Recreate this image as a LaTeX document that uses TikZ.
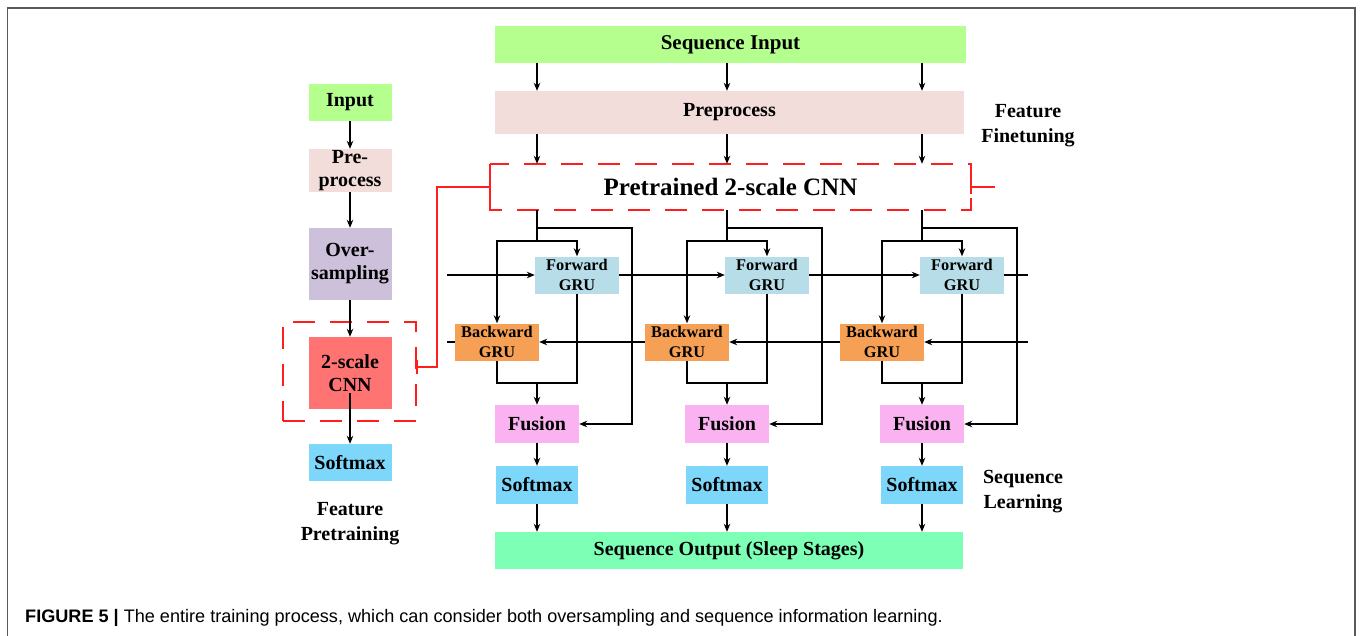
\documentclass[tikz,border=0pt]{standalone}
\usepackage{fontspec}
\setmainfont{Liberation Serif}
\setsansfont{Liberation Sans}
\usetikzlibrary{arrows.meta,calc}

\definecolor{cinput}{RGB}{180,255,142}
\definecolor{cpre}{RGB}{242,221,219}
\definecolor{cover}{RGB}{204,192,218}
\definecolor{ccnn}{RGB}{255,115,115}
\definecolor{csoft}{RGB}{125,215,250}
\definecolor{cfwd}{RGB}{183,222,232}
\definecolor{cbwd}{RGB}{245,160,85}
\definecolor{cfus}{RGB}{250,178,240}
\definecolor{cout}{RGB}{125,255,182}
\definecolor{cred}{RGB}{255,30,30}
\definecolor{cframe}{RGB}{90,90,90}

\begin{document}
\begin{tikzpicture}[x=1pt,y=-1pt,
  box/.style={draw=none, inner sep=0pt, align=center,
    font=\bfseries\fontsize{20}{23}\selectfont},
  gru/.style={box, minimum width=84pt, minimum height=37pt,
    font=\bfseries\fontsize{16.3}{19.5}\selectfont},
  lbl/.style={inner sep=0pt, align=center, font=\bfseries\fontsize{20}{25}\selectfont},
  arr/.style={-{Stealth[length=8pt,width=6.5pt]}, line width=1.6pt},
  ln/.style={line width=1.6pt},
  redln/.style={draw=cred, line width=1.8pt},
  reddash/.style={draw=cred, line width=1.8pt, dash pattern=on 22pt off 15pt}
]
\useasboundingbox (0,0) rectangle (1360,635);

% outer frame
\draw[cframe, line width=1.5pt] (7.5,640) -- (7.5,8) -- (1355,8) -- (1355,640);

% ---------- left column ----------
\node[box, fill=cinput, minimum width=83pt, minimum height=37pt] (inp) at (350,102.5) {Input};
\node[box, fill=cpre, minimum width=83pt, minimum height=43pt] (pre) at (350,170.5) {Pre-\\process};
\node[box, fill=cover, minimum width=83pt, minimum height=72pt] (over) at (350,264) {Over-\\sampling};
\node[box, fill=ccnn, minimum width=83pt, minimum height=72pt] (cnn) at (350,373) {2-scale\\CNN};
\node[box, fill=csoft, minimum width=83pt, minimum height=37pt] (sm0) at (350,462.5) {Softmax};
\node[reddash, minimum width=133pt, minimum height=99pt, inner sep=0pt] (dbox) at (349.5,371.5) {};
\node[lbl] (lfp) at (350,524) {Feature\\Pretraining};

\draw[arr] (inp) -- (pre);
\draw[arr] (pre) -- (over);
\draw[arr] (over) -- (cnn);
\draw[arr] ($(cnn.center)+(0,20)$) -- (sm0);

% ---------- main part ----------
\node[box, fill=cinput, minimum width=471pt, minimum height=37pt,
  font=\bfseries\fontsize{21}{23}\selectfont] (sin) at (730.5,44.5) {Sequence Input};
\node[box, fill=cpre, minimum width=469pt, minimum height=43pt] (spre) at (729.5,112.5) {Preprocess};
\node[draw=none, minimum width=481pt, minimum height=46pt, inner sep=0pt,
  font=\bfseries\fontsize{25}{28}\selectfont] (ptr) at (730.5,187) {Pretrained 2-scale CNN};
\draw[reddash] (ptr.north west) rectangle (ptr.south east);
\draw[redln] (ptr.north west) -- (ptr.south west);
\node[lbl] (lff) at (1028,126) {Feature\\Finetuning};
\node[box, fill=cout, minimum width=468pt, minimum height=37pt] (out) at (729,550.5) {Sequence Output (Sleep Stages)};
\node[lbl] (lsl) at (1023,492) {Sequence\\Learning};

% red connector
\coordinate (rk) at (437,367);
\coordinate (rend) at (995,187);
\draw[redln] (dbox.east |- rk) -- (rk) |- (ptr.west);
\draw[redln] ($(dbox.east |- rk)+(0,-7)$) -- ($(dbox.east |- rk)+(0,7)$);
\draw[redln] (ptr.east) -- (rend);
\draw[redln] ($(ptr.east)+(0,-7)$) -- ($(ptr.east)+(0,7)$);

% columns
\foreach \i/\c in {1/537, 2/727, 3/922}{
  \coordinate (c\i) at (\c,0);
  \node[gru, fill=cfwd] (fg\i) at (\c+40,275) {Forward\\GRU};
  \node[gru, fill=cbwd] (bg\i) at (\c-40,342) {Backward\\GRU};
  \node[box, fill=cfus, minimum width=84pt, minimum height=38pt] (fu\i) at (\c,424) {Fusion};
  \node[box, fill=csoft, minimum width=82pt, minimum height=38pt] (sm\i) at (\c,485) {Softmax};
  \coordinate (sp\i) at (\c,241);
  \coordinate (lp\i) at (\c,228);
  \coordinate (mg\i) at (\c,383);
  \draw[arr] (sin.south -| c\i) -- (spre.north -| c\i);
  \draw[arr] (spre.south -| c\i) -- (ptr.north -| c\i);
  \draw[ln] (ptr.south -| c\i) -- (sp\i);
  \draw[arr] (sp\i) -| (fg\i.north);
  \draw[arr] (sp\i) -| (bg\i.north);
  \draw[arr] (lp\i) -- ++(95,0) |- (fu\i.east);
  \draw[ln] (fg\i.south) |- (mg\i) -| (bg\i.south);
  \draw[arr] (mg\i) -- (fu\i.north);
  \draw[arr] (fu\i.south) -- (sm\i.north);
  \draw[arr] (sm\i.south) -- (sm\i.south |- out.north);
}

% recurrent links
\coordinate (lf) at (447,275);
\coordinate (lb) at (447,342);
\coordinate (rf) at (1028,275);
\coordinate (rb) at (1028,342);
\draw[arr] (lf) -- (fg1.west);
\draw[arr] (fg1.east) -- (fg2.west);
\draw[arr] (fg2.east) -- (fg3.west);
\draw[ln] (fg3.east) -- (rf);
\draw[arr] (rb) -- (bg3.east);
\draw[arr] (bg3.west) -- (bg2.east);
\draw[arr] (bg2.west) -- (bg1.east);
\draw[ln] (bg1.west) -- (lb);

% caption
\node[anchor=west, inner sep=0pt, font=\sffamily\fontsize{18.1}{20}\selectfont] (cap) at (25,618)
  {\textbf{FIGURE 5 |} The entire training process, which can consider both oversampling and sequence information learning.};
\end{tikzpicture}
\end{document}
